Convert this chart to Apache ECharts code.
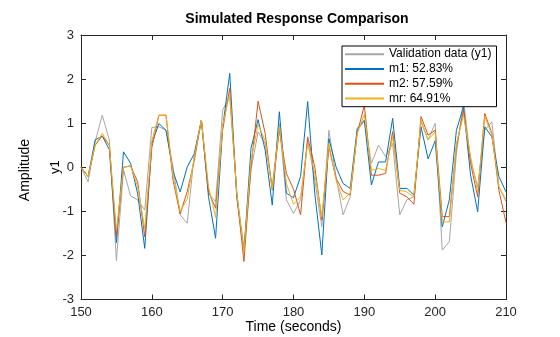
<!DOCTYPE html>
<html>
<head>
<meta charset="utf-8">
<script src="https://cdn.jsdelivr.net/npm/echarts@6/dist/echarts.min.js"></script>
<style>
html,body{margin:0;padding:0;background:#fff;}
#chart{width:560px;height:337px;}
</style>
</head>
<body>
<div id="chart"></div>
<script>
// Time axis (seconds)
var times = [];
for (var t = 150; t <= 210; t++) times.push(t);

var seriesNames = ['Validation data (y1)', 'm1: 52.83%', 'm2: 57.59%', 'mr: 64.91%'];

var validation = [0.0,-0.33,0.58,1.18,0.62,-2.12,-0.06,-0.65,-0.74,-0.97,
  0.9,0.92,0.84,0.0,-1.08,-1.27,0.31,1.07,-0.59,-0.78,
  1.3,1.6,-0.62,-1.8,-0.06,0.8,0.54,-0.44,0.99,-0.74,
  -1.05,-0.74,0.62,-0.29,-1.35,0.84,-0.21,-1.08,-0.67,0.84,
  1.05,0.09,0.5,0.24,0.54,-1.08,-0.74,-0.67,1.03,0.62,
  1.0,-1.88,-1.69,0.31,1.52,0.16,-0.44,0.84,1.03,-0.44,-0.78];

var m1 = [0.0,-0.21,0.62,0.71,0.4,-1.71,0.35,0.09,-0.6,-1.84,
  0.54,0.99,0.84,-0.1,-0.56,0.01,0.31,1.07,-0.67,-1.61,
  0.9,2.13,-0.7,-1.93,0.43,1.08,0.39,-0.86,1.26,-0.59,
  -0.69,-0.21,1.49,-0.59,-1.99,0.65,0.01,-0.37,-0.48,0.88,
  1.07,-0.4,0.12,0.12,1.11,-0.48,-0.48,-0.63,0.92,0.19,
  0.6,-1.35,-0.74,0.84,1.37,-0.18,-1.01,0.92,0.69,-0.21,-0.56];

var m2 = [0.0,-0.21,0.5,0.71,0.5,-1.58,0.0,0.03,-0.33,-1.58,
  0.45,1.18,1.18,-0.3,-1.06,-0.55,0.16,1.07,-0.55,-0.93,
  0.85,1.79,-0.6,-2.14,0.0,1.5,0.77,-0.52,0.84,-0.14,
  -0.5,-1.08,0.69,0.01,-1.2,0.46,-0.25,-0.55,-0.63,0.77,
  1.4,-0.18,-0.18,-0.14,0.81,-0.59,-0.67,-0.84,1.15,0.73,
  0.84,-1.12,-1.12,0.46,1.3,0.09,-0.67,1.22,0.77,-0.52,-1.26];

var mr = [0.0,-0.21,0.5,0.77,0.5,-1.43,0.0,0.03,-0.44,-1.39,
  0.6,1.18,1.18,-0.2,-1.0,-0.72,0.24,1.07,-0.44,-1.14,
  0.95,1.68,-0.6,-1.92,0.16,0.97,0.6,-0.5,0.92,-0.37,
  -0.84,-0.67,0.54,-0.14,-1.12,0.54,-0.29,-0.74,-0.59,0.77,
  1.2,-0.07,-0.03,-0.07,0.69,-0.52,-0.56,-0.67,1.07,0.62,
  0.8,-1.24,-1.24,0.54,1.18,0.24,-0.56,1.15,0.74,-0.44,-0.74];

var xTicks = [150,160,170,180,190,200,210];
var yTicks = [-3,-2,-1,0,1,2,3];

function pairs(vals){ return times.map(function(t,i){ return [t, vals[i]]; }); }

var colors = ['#a6a6a6', '#0072BD', '#D95319', '#EDB120'];
var allData = [validation, m1, m2, mr];

var chart = echarts.init(document.getElementById('chart'), null, {renderer:'canvas'});
var axisColor = '#262626';
var font = 'Liberation Sans, Arial, Helvetica, sans-serif';

var option = {
  animation: false,
  backgroundColor: '#fff',
  title: {
    text: 'Simulated Response Comparison',
    left: 292, top: 7, textAlign: 'center',
    textStyle: {fontFamily: font, fontSize: 14, fontWeight: 'bold', color: '#000'}
  },
  grid: {left: 81, top: 35, width: 425, height: 264.5, show: false, containLabel: false, outerBoundsMode: 'none'},
  legend: {
    data: seriesNames.map(function(n,i){ return {name: n, icon: 'rect'}; }),
    orient: 'vertical',
    left: 342, top: 46,
    itemWidth: 39, itemHeight: 2,
    itemGap: 0.5,
    padding: [1, 5, 1, 3],
    backgroundColor: '#fff',
    borderColor: '#000', borderWidth: 1,
    selectedMode: false,
    textStyle: {fontFamily: font, fontSize: 12, color: '#000', lineHeight: 14.3}
  },
  graphic: [{
    type: 'text', x: 25, y: 170, rotation: Math.PI/2,
    style: {text: 'Amplitude', fontFamily: font, fontSize: 14, fill: '#000', align: 'center', verticalAlign: 'middle'}
  }],
  xAxis: [{
    type: 'value', min: 150, max: 210, interval: 10,
    name: 'Time (seconds)', nameLocation: 'middle', nameGap: 21, nameMoveOverlap: false,
    nameTextStyle: {fontFamily: font, fontSize: 14, color: '#000'},
    axisLine: {show: true, onZero: false, lineStyle: {color: axisColor, width: 1}},
    axisTick: {show: true, inside: true, length: 5, lineStyle: {color: axisColor}},
    axisLabel: {fontFamily: font, fontSize: 13, color: axisColor, margin: 6,
      formatter: function(v){ return xTicks.indexOf(v) >= 0 ? String(v) : ''; }},
    splitLine: {show: false}
  },{
    type: 'value', min: 150, max: 210, interval: 10, position: 'top',
    axisLine: {show: true, onZero: false, lineStyle: {color: axisColor, width: 1}},
    axisTick: {show: true, inside: true, length: 5, lineStyle: {color: axisColor}},
    axisLabel: {show: false}, splitLine: {show: false}
  }],
  yAxis: [{
    type: 'value', min: -3, max: 3, interval: 1,
    name: 'y1', nameLocation: 'middle', nameGap: 19, nameMoveOverlap: false,
    nameTextStyle: {fontFamily: font, fontSize: 13, color: '#000'},
    axisLine: {show: true, onZero: false, lineStyle: {color: axisColor, width: 1}},
    axisTick: {show: true, inside: true, length: 5, lineStyle: {color: axisColor}},
    axisLabel: {fontFamily: font, fontSize: 13, color: axisColor, margin: 7,
      formatter: function(v){ return yTicks.indexOf(v) >= 0 ? String(v) : ''; }},
    splitLine: {show: false}
  },{
    type: 'value', min: -3, max: 3, interval: 1, position: 'right',
    axisLine: {show: true, onZero: false, lineStyle: {color: axisColor, width: 1}},
    axisTick: {show: true, inside: true, length: 5, lineStyle: {color: axisColor}},
    axisLabel: {show: false}, splitLine: {show: false}
  }],
  series: seriesNames.map(function(n, i){
    return {
      name: n, type: 'line', data: pairs(allData[i]),
      xAxisIndex: 0, yAxisIndex: 0,
      showSymbol: false, symbol: 'none',
      lineStyle: {color: colors[i], width: 1},
      itemStyle: {color: colors[i]},
      clip: true
    };
  })
};
chart.setOption(option);
</script>
</body>
</html>
